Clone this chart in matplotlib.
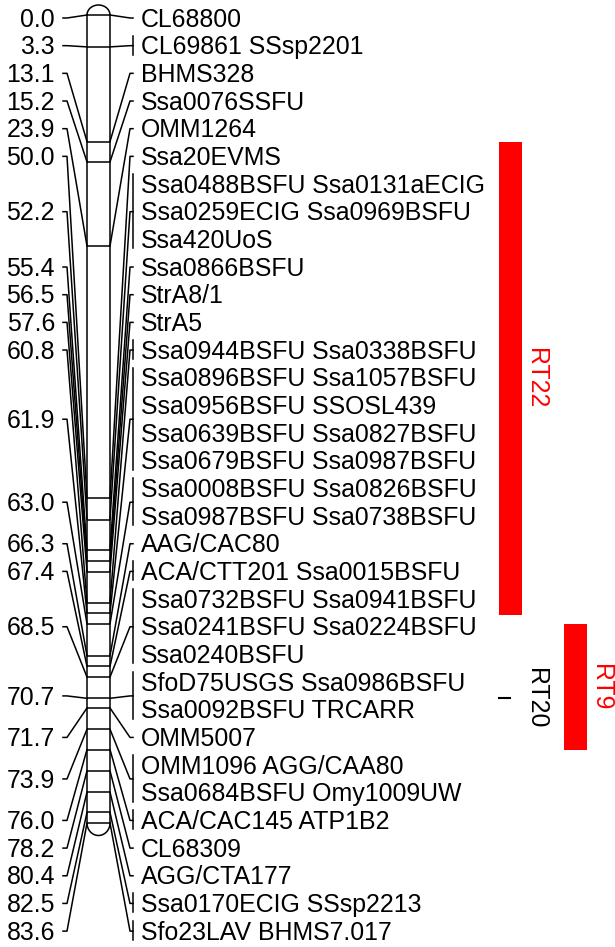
import matplotlib
matplotlib.use('Agg')
import matplotlib.pyplot as plt
from matplotlib.patches import Arc, Rectangle

# linkage group data (cM positions and the markers at each one)
positions = [0.0, 3.3, 13.1, 15.2, 23.9, 50.0, 52.2, 55.4, 56.5, 57.6, 60.8, 61.9,
             63.0, 66.3, 67.4, 68.5, 70.7, 71.7, 73.9, 76.0, 78.2, 80.4, 82.5, 83.6]
markers = [
    ['CL68800'],
    ['CL69861', 'SSsp2201'],
    ['BHMS328'],
    ['Ssa0076SSFU'],
    ['OMM1264'],
    ['Ssa20EVMS'],
    ['Ssa0488BSFU', 'Ssa0131aECIG', 'Ssa0259ECIG', 'Ssa0969BSFU', 'Ssa420UoS'],
    ['Ssa0866BSFU'],
    ['StrA8/1'],
    ['StrA5'],
    ['Ssa0944BSFU', 'Ssa0338BSFU'],
    ['Ssa0896BSFU', 'Ssa1057BSFU', 'Ssa0956BSFU', 'SSOSL439',
     'Ssa0639BSFU', 'Ssa0827BSFU', 'Ssa0679BSFU', 'Ssa0987BSFU'],
    ['Ssa0008BSFU', 'Ssa0826BSFU', 'Ssa0987BSFU', 'Ssa0738BSFU'],
    ['AAG/CAC80'],
    ['ACA/CTT201', 'Ssa0015BSFU'],
    ['Ssa0732BSFU', 'Ssa0941BSFU', 'Ssa0241BSFU', 'Ssa0224BSFU', 'Ssa0240BSFU'],
    ['SfoD75USGS', 'Ssa0986BSFU', 'Ssa0092BSFU', 'TRCARR'],
    ['OMM5007'],
    ['OMM1096', 'AGG/CAA80', 'Ssa0684BSFU', 'Omy1009UW'],
    ['ACA/CAC145', 'ATP1B2'],
    ['CL68309'],
    ['AGG/CTA177'],
    ['Ssa0170ECIG', 'SSsp2213'],
    ['Sfo23LAV', 'BHMS7.017'],
]

qtl_names = ['RT22', 'RT20', 'RT9']
qtl_start = [13.1, 70.7, 63.0]
qtl_end = [62.1, 70.7, 76.0]
qtl_column = [0, 0, 1]
qtl_colors = ['#ff0000', 'black', '#ff0000']

plt.rcParams['font.family'] = ['Liberation Sans', 'DejaVu Sans']
FS = 17.9
LW = 1.1

fig = plt.figure(figsize=(6.15, 9.47), dpi=100)
ax = fig.add_axes([0, 0, 1, 1])

PX = 9.665   # pixels per cM
TOP = 15     # pixel row of 0 cM
def cm(px):
    return (px - TOP) / PX

ax.set_xlim(0, 615)
ax.set_ylim(cm(947), cm(0))
ax.axis('off')

# chromosome
x0, x1 = 87, 110
xc = (x0 + x1) / 2
ax.plot([x0, x0], [positions[0], positions[-1]], color='black', lw=LW)
ax.plot([x1, x1], [positions[0], positions[-1]], color='black', lw=LW)
ax.add_patch(Arc((xc, positions[0]), x1 - x0, 2 * 10 / PX, theta1=180, theta2=360,
                 color='black', lw=LW))
ax.add_patch(Arc((xc, positions[-1]), x1 - x0, 2 * 12.5 / PX, theta1=0, theta2=180,
                 color='black', lw=LW))
ax.hlines(positions, x0, x1, color='black', lw=LW)

# label rows, two markers per row
step = 27.67 / PX
row = cm(18)
off = 8.7 / PX
for pos, grp in zip(positions, markers):
    rows = [' '.join(grp[i:i + 2]) for i in range(0, len(grp), 2)]
    ys = [row + k * step for k in range(len(rows))]
    row += len(rows) * step
    ly = sum(ys) / len(ys)

    ax.plot([63, 67, x0], [ly, ly, pos], color='black', lw=LW)
    ax.text(55, ly + off, f'{pos:.1f}', ha='right', va='baseline', fontsize=FS)

    ax.plot([x1, 130, 133], [pos, ly, ly], color='black', lw=LW)
    if len(grp) > 1:
        ax.plot([133, 133], [ys[0] - 10 / PX, ys[-1] + 9 / PX], color='black', lw=LW)
    for y, t in zip(ys, rows):
        ax.text(141, y + off, t, ha='left', va='baseline', fontsize=FS)

# QTL bars
col_x = [499, 564]
for name, s, e, c, col in zip(qtl_names, qtl_start, qtl_end, qtl_colors, qtl_column):
    bx = col_x[col]
    if e > s:
        ax.add_patch(Rectangle((bx, s), 23, e - s, color=c, lw=0))
    else:
        ax.plot([bx, bx + 11], [s, s], color=c, lw=1.5)
    ax.text(bx + 37, (s + e) / 2, name, rotation=270, ha='center', va='center',
            fontsize=FS, color=c)

fig.savefig('out.png', dpi=100)
